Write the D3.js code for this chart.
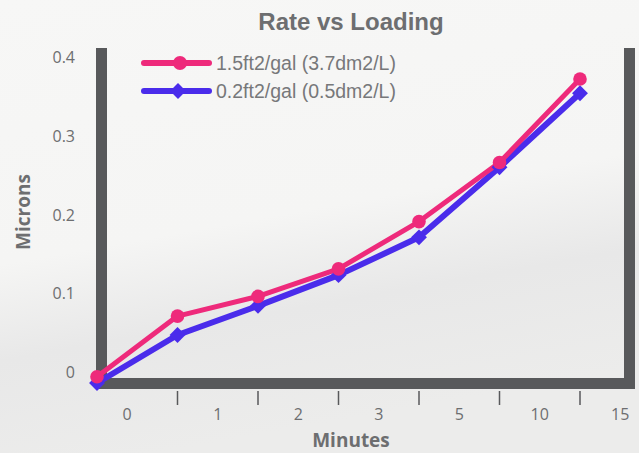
<!DOCTYPE html>
<html>
<head>
<meta charset="utf-8">
<script src="https://cdn.jsdelivr.net/npm/d3@7"></script>
<style>
  body { margin: 0; background: #f6f6f5; }
  svg { display: block; }
</style>
</head>
<body>
<div id="chart"></div>
<script>
// data
var minutes = ["0", "1", "2", "3", "5", "10", "15"]
var seriesNames = ["1.5ft2/gal (3.7dm2/L)", "0.2ft2/gal (0.5dm2/L)"]
var pinkVals = [-0.006, 0.071, 0.096, 0.131, 0.191, 0.266, 0.372]
var blueVals = [-0.014, 0.047, 0.084, 0.123, 0.171, 0.26, 0.354]
var yTicks = [0, 0.1, 0.2, 0.3, 0.4]

var svgSize = { width: 639, height: 453 }
var colors = { pink: "#ee2a7b", blue: "#4a2ceb", axis: "#58595b", text: "#6d6e70" }

var svg = d3.select("#chart").append("svg")
    .attr("width", svgSize.width)
    .attr("height", svgSize.height)

// background with soft grey diagonal band
var defs = svg.append("defs")
var grad = defs.append("linearGradient").attr("id", "bg")
    .attr("x1", "0").attr("y1", "0").attr("x2", "0.25").attr("y2", "1")
grad.append("stop").attr("offset", "0").attr("stop-color", "#f7f7f6")
grad.append("stop").attr("offset", "0.55").attr("stop-color", "#f5f5f4")
grad.append("stop").attr("offset", "0.75").attr("stop-color", "#e8e8e8")
grad.append("stop").attr("offset", "1").attr("stop-color", "#ececeb")
svg.append("rect").attr("width", svgSize.width).attr("height", svgSize.height).attr("fill", "url(#bg)")

var xScale = d3.scalePoint().domain(minutes).range([97, 580])
var yScale = d3.scaleLinear().domain([0, 0.4]).range([372, 57])
var step = xScale.step()

// frame bars
var frame = svg.append("g")
frame.append("rect").attr("x", 96).attr("y", 48).attr("width", 11).attr("height", 341).attr("fill", colors.axis)
frame.append("rect").attr("x", 624).attr("y", 48).attr("width", 11).attr("height", 341).attr("fill", colors.axis)
frame.append("rect").attr("x", 96).attr("y", 378).attr("width", 539).attr("height", 11).attr("fill", colors.axis)

// x ticks and labels
var xAxis = svg.append("g").attr("id", "xAxis")
xAxis.selectAll("line").data(minutes.slice(1)).enter().append("line")
    .attr("x1", d => xScale(d)).attr("x2", d => xScale(d))
    .attr("y1", 391).attr("y2", 405)
    .attr("stroke", colors.axis).attr("stroke-width", 1.5)
xAxis.selectAll("text").data(minutes).enter().append("text")
    .attr("x", (d, i) => i == 0 ? xScale(d) + 30 : xScale(d) + step / 2)
    .attr("y", 420)
    .attr("text-anchor", "middle")
    .style("font-family", "'Open Sans', sans-serif").style("font-size", "16px")
    .style("fill", colors.text)
    .text(d => d)

// y labels
var yAxis = svg.append("g").attr("id", "yAxis")
yAxis.selectAll("text").data(yTicks).enter().append("text")
    .attr("x", 75).attr("y", d => yScale(d) + 6)
    .attr("text-anchor", "end")
    .style("font-family", "'Open Sans', sans-serif").style("font-size", "16px")
    .style("fill", colors.text)
    .text(d => d == 0 ? "0" : d3.format(".1f")(d))

// titles
svg.append("text").attr("x", 351).attr("y", 30).attr("text-anchor", "middle")
    .style("font-family", "'Liberation Sans', Arial, sans-serif").style("font-size", "24px").style("font-weight", "bold")
    .style("fill", colors.text).text("Rate vs Loading")
svg.append("text").attr("x", 351).attr("y", 447).attr("text-anchor", "middle")
    .style("font-family", "'Open Sans', sans-serif").style("font-size", "19px").style("font-weight", "bold")
    .style("fill", colors.text).text("Minutes")
svg.append("text").attr("transform", "translate(30,212) rotate(-90)").attr("text-anchor", "middle")
    .style("font-family", "'Open Sans', sans-serif").style("font-size", "19px").style("font-weight", "bold")
    .style("fill", colors.text).text("Microns")

// lines
var line = d3.line().x((d, i) => xScale(minutes[i])).y(d => yScale(d))
var chartData = svg.append("g").attr("id", "chartData")
chartData.append("path").datum(blueVals).attr("d", line)
    .attr("fill", "none").attr("stroke", colors.blue).attr("stroke-width", 6).attr("stroke-linejoin", "round")
chartData.append("path").datum(pinkVals).attr("d", line)
    .attr("fill", "none").attr("stroke", colors.pink).attr("stroke-width", 5).attr("stroke-linejoin", "round")

var diamond = d3.symbol().type(d3.symbolDiamond2).size(160)
chartData.selectAll(".blue").data(blueVals).enter().append("path")
    .attr("class", "blue")
    .attr("transform", (d, i) => "translate(" + xScale(minutes[i]) + "," + yScale(d) + ")")
    .attr("d", diamond).attr("fill", colors.blue)
chartData.selectAll(".pink").data(pinkVals).enter().append("circle")
    .attr("class", "pink")
    .attr("cx", (d, i) => xScale(minutes[i])).attr("cy", d => yScale(d))
    .attr("r", 6.8).attr("fill", colors.pink)

// legend
var legend = svg.append("g").attr("id", "legend")
var legendRows = [
    { name: seriesNames[0], color: colors.pink, y: 63, shape: "circle" },
    { name: seriesNames[1], color: colors.blue, y: 91, shape: "diamond" }
]
legendRows.forEach(r => {
    legend.append("line").attr("x1", 144).attr("x2", 209).attr("y1", r.y).attr("y2", r.y)
        .attr("stroke", r.color).attr("stroke-width", 6).attr("stroke-linecap", "round")
    if (r.shape == "circle") {
        legend.append("circle").attr("cx", 180).attr("cy", r.y).attr("r", 7).attr("fill", r.color)
    } else {
        legend.append("path").attr("transform", "translate(178," + r.y + ")").attr("d", diamond).attr("fill", r.color)
    }
    legend.append("text").attr("x", 216).attr("y", r.y + 7)
        .style("font-family", "'Liberation Sans', Arial, sans-serif").style("font-size", "19.5px")
        .style("fill", "#77787a").text(r.name)
})
</script>
</body>
</html>
